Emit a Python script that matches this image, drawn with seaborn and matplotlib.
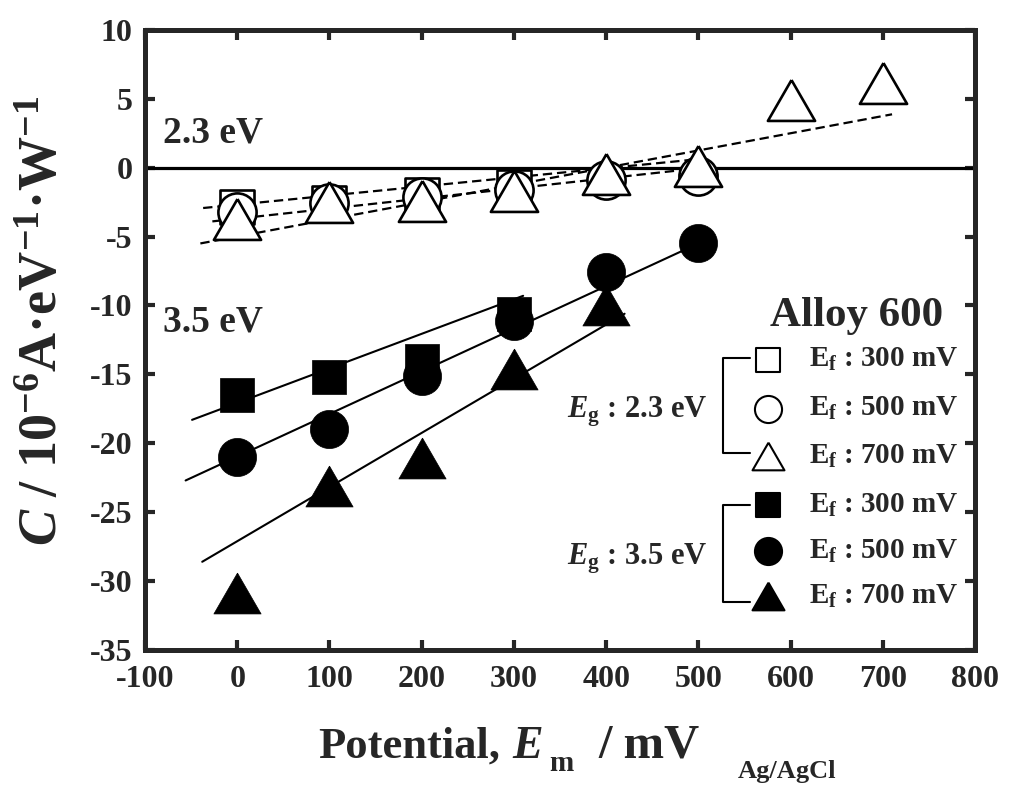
import numpy as np
import pandas as pd
import matplotlib
matplotlib.use("Agg")
import matplotlib.pyplot as plt
import seaborn as sns

# ---- data: capacitance-type coefficient C vs. measuring potential ----
potential = [0, 100, 200, 300, 400, 500, 600, 700]

# Eg = 2.3 eV (open symbols)
open_ef300 = [-2.87, -2.56, -1.95, -1.42]
open_ef500 = [-3.20, -2.55, -2.10, -1.60, -0.90, -0.58]
open_ef700 = [-3.75, -2.52, -2.45, -1.72, -0.45, 0.15, 4.90, 6.15]

# Eg = 3.5 eV (filled symbols)
fill_ef300 = [-16.5, -15.2, -14.0, -10.6]
fill_ef500 = [-21.0, -19.0, -15.1, -11.1, -7.6, -5.5]
fill_ef700 = [-30.9, -23.1, -21.1, -14.6, -10.0]

# straight-line fits, given by their end points (x0, x1, y0, y1)
fit_open_ef300 = [-37, 490, -2.93, 0.55]
fit_open_ef500 = [-27, 490, -3.90, -0.12]
fit_open_ef700 = [-40, 710, -5.50, 3.87]
fit_fill_ef300 = [-49, 310, -18.3, -9.3]
fit_fill_ef500 = [-56, 500, -22.7, -5.5]
fit_fill_ef700 = [-38, 420, -28.6, -10.6]

legend_labels = ["300 mV", "500 mV", "700 mV"]
x_ticks = [-100, 0, 100, 200, 300, 400, 500, 600, 700, 800]
y_ticks = [-35, -30, -25, -20, -15, -10, -5, 0, 5, 10]

# ---- style ----
sns.set_style("ticks")
plt.rcParams["font.family"] = ["Liberation Serif", "DejaVu Serif"]
plt.rcParams["font.weight"] = "bold"
plt.rcParams["axes.unicode_minus"] = False
plt.rcParams["mathtext.fontset"] = "custom"
plt.rcParams["mathtext.rm"] = "Liberation Serif:bold"
plt.rcParams["mathtext.bf"] = "Liberation Serif:bold"
plt.rcParams["mathtext.it"] = "Liberation Serif:italic:bold"

# equilateral triangle, centred on its bounding box
tri = [(0.0, 0.433), (-0.5, -0.433), (0.5, -0.433), (0.0, 0.433)]

W, H = 1010, 785
fig = plt.figure(figsize=(W / 100, H / 100), dpi=100)
ax = fig.add_axes([0.1436, 0.172, 0.8218, 0.790])

# zero line
ax.axhline(0, color="black", lw=2.3, zorder=1)

# fit lines
for f in (fit_open_ef300, fit_open_ef500, fit_open_ef700):
    ax.plot(f[:2], f[2:], color="black", lw=1.6, dashes=(4.2, 2.2), zorder=2)
for f in (fit_fill_ef300, fit_fill_ef500, fit_fill_ef700):
    ax.plot(f[:2], f[2:], color="black", lw=1.5, zorder=2)

def series(vals):
    return pd.DataFrame({"E": potential[:len(vals)], "C": vals})

open_kw = dict(facecolor="white", edgecolor="black", linewidth=1.9, legend=False)
fill_kw = dict(color="black", edgecolor="black", linewidth=0.5, legend=False)

sns.scatterplot(data=series(open_ef300), x="E", y="C", marker="s", s=25**2, zorder=3, ax=ax, **open_kw)
sns.scatterplot(data=series(open_ef500), x="E", y="C", marker="o", s=27.5**2, zorder=4, ax=ax, **open_kw)
sns.scatterplot(data=series(open_ef700), x="E", y="C", marker=tri, s=34**2, zorder=5, ax=ax, **open_kw)

sns.scatterplot(data=series(fill_ef300), x="E", y="C", marker="s", s=25**2, zorder=3, ax=ax, **fill_kw)
sns.scatterplot(data=series(fill_ef500), x="E", y="C", marker="o", s=27.5**2, zorder=4, ax=ax, **fill_kw)
sns.scatterplot(data=series(fill_ef700), x="E", y="C", marker=tri, s=34**2, zorder=5, ax=ax, **fill_kw)

# ---- axes ----
ax.set_xlim(-100, 800)
ax.set_ylim(-35, 10)
ax.set_xticks(x_ticks)
ax.set_yticks(y_ticks)
for sp in ax.spines.values():
    sp.set_linewidth(3.6)
    sp.set_visible(True)
ax.tick_params(axis="both", which="major", direction="in", length=7, width=3,
               labelsize=23, top=True, right=True)
ax.tick_params(axis="x", pad=11)
ax.tick_params(axis="y", pad=9)
for lab in ax.get_xticklabels() + ax.get_yticklabels():
    lab.set_fontweight("bold")
ax.set_xlabel("")

ax.set_ylabel(r"$\it{C}$ / 10$^{-6}$A·eV$^{-1}$·W$^{-1}$", fontsize=39, fontweight="bold")
ax.yaxis.set_label_coords(-0.092, 0.53)

# x-axis title built from pieces sharing one baseline
def ftext(px, py, s, size, **kw):
    fig.text(px / W, 1 - py / H, s, fontsize=size, fontweight="bold",
             va="baseline", ha="left", **kw)

ftext(318, 758, "Potential,", 32)
ftext(512, 758, "E", 33, style="italic")
ftext(549, 771, "m", 21)
ftext(598, 758, "/ mV", 35)
ftext(738, 778, "Ag/AgCl", 19)

# ---- annotations ----
ax.text(-80, 2.5, "2.3 eV", fontsize=27, fontweight="bold", va="center", ha="left")
ax.text(-80, -11.2, "3.5 eV", fontsize=27, fontweight="bold", va="center", ha="left")
ax.text(671, -10.75, "Alloy 600", fontsize=31, fontweight="bold", va="center", ha="center")

# ---- hand-built legend ----
row_y = [-13.95, -17.5, -20.95, -24.5, -27.85, -31.1]
mk_x, txt_x = 576, 620
leg_markers = ["s", "o", tri, "s", "o", tri]
leg_sizes = [17**2, 19.5**2, 23**2, 17**2, 19.5**2, 23**2]
for i, (yy, mk, ss) in enumerate(zip(row_y, leg_markers, leg_sizes)):
    filled = i >= 3
    ax.scatter([mk_x], [yy], marker=mk, s=ss,
               facecolor="black" if filled else "white",
               edgecolor="black", linewidth=1.5, zorder=6, clip_on=False)
    ax.text(txt_x, yy, r"E$_{\rm f}$ : " + legend_labels[i % 3], fontsize=21,
            fontweight="bold", va="center", ha="left")

# brackets grouping the Eg = 2.3 eV and Eg = 3.5 eV rows
for y_top, y_bot in ((-13.78, -20.68), (-24.47, -31.5)):
    ax.plot([556, 527, 527, 556], [y_top, y_top, y_bot, y_bot], color="black", lw=1.5, zorder=6)

ax.text(510, -17.7, r"$\it{E}_{\rm g}$ : 2.3 eV", fontsize=22, fontweight="bold", va="center", ha="right")
ax.text(510, -28.4, r"$\it{E}_{\rm g}$ : 3.5 eV", fontsize=22, fontweight="bold", va="center", ha="right")

fig.savefig("out.png", dpi=100)
